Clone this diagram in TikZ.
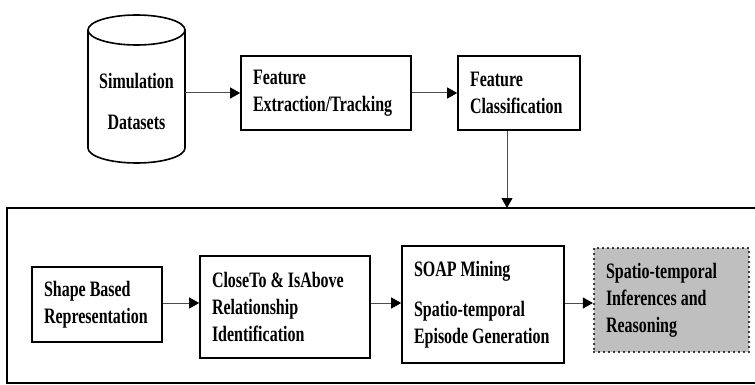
\documentclass[tikz,border=0pt]{standalone}
\usepackage{fontspec}
\setmainfont{Liberation Serif}[FakeStretch=0.727]
\usetikzlibrary{arrows.meta,positioning}

\begin{document}
\begin{tikzpicture}[
    x=1pt, y=-1pt,
    every node/.style={font=\fontsize{22}{27}\selectfont\bfseries},
    box/.style={draw, line width=1.6pt, align=flush left, inner xsep=12pt, inner ysep=0pt},
    store/.style={line width=1.6pt},
    result/.style={box, fill=black!25, line width=2.2pt, line cap=round, dash pattern=on 0pt off 5pt},
    arrow/.style={-{Triangle[length=10pt,width=11pt,color=black]}, draw=black!70, line width=1pt}
]
\useasboundingbox (0,0) rectangle (755,385);

% Top row: data store and feature steps
\draw[store] (136.5,30) ellipse [x radius=48.5, y radius=15];
\draw[store] (88,30) -- (88,148) arc[start angle=180, end angle=0, x radius=48.5, y radius=15] -- (185,30);
\node[align=center, minimum width=97pt] (data) at (136.5,101) {Simulation\\[14pt]Datasets};
\node[box, text width=146pt, minimum height=74pt] (extract) at (326,93) {Feature\\Extraction/Tracking};
\node[box, text width=98pt, minimum height=74pt] (classify) at (519,93) {Feature\\Classification};

% Bottom row: analysis stage
\draw[line width=2.6pt] (757,208) -- (7,208) -- (7,383) -- (757,383);
\coordinate (stagetop) at (507,208);

\node[box, text width=106pt, minimum height=75pt] (shape) at (97,304.5) {Shape Based\\Representation};
\node[box, text width=146pt, minimum height=102pt] (relation) at (285,307) {CloseTo \& IsAbove\\Relationship\\Identification};
\node[box, text width=138pt, minimum height=117pt] (soap) at (483,304.5) {SOAP Mining\\[13pt]Spatio-temporal\\Episode Generation};
\node[result, text width=131pt, minimum height=104pt] (reason) at (671.5,300) {Spatio-temporal\\Inferences and\\Reasoning};

% Arrows
\draw[arrow] (data.east |- extract) -- (extract.west);
\draw[arrow] (extract.east) -- (extract.east -| classify.west);
\draw[arrow] (classify.south -| stagetop) -- (stagetop);
\draw[arrow] (shape.east |- 0,303) -- (relation.west |- 0,303);
\draw[arrow] (relation.east |- 0,303) -- (soap.west |- 0,303);
\draw[arrow] (soap.east |- 0,303) -- (reason.west |- 0,303);

\end{tikzpicture}
\end{document}
